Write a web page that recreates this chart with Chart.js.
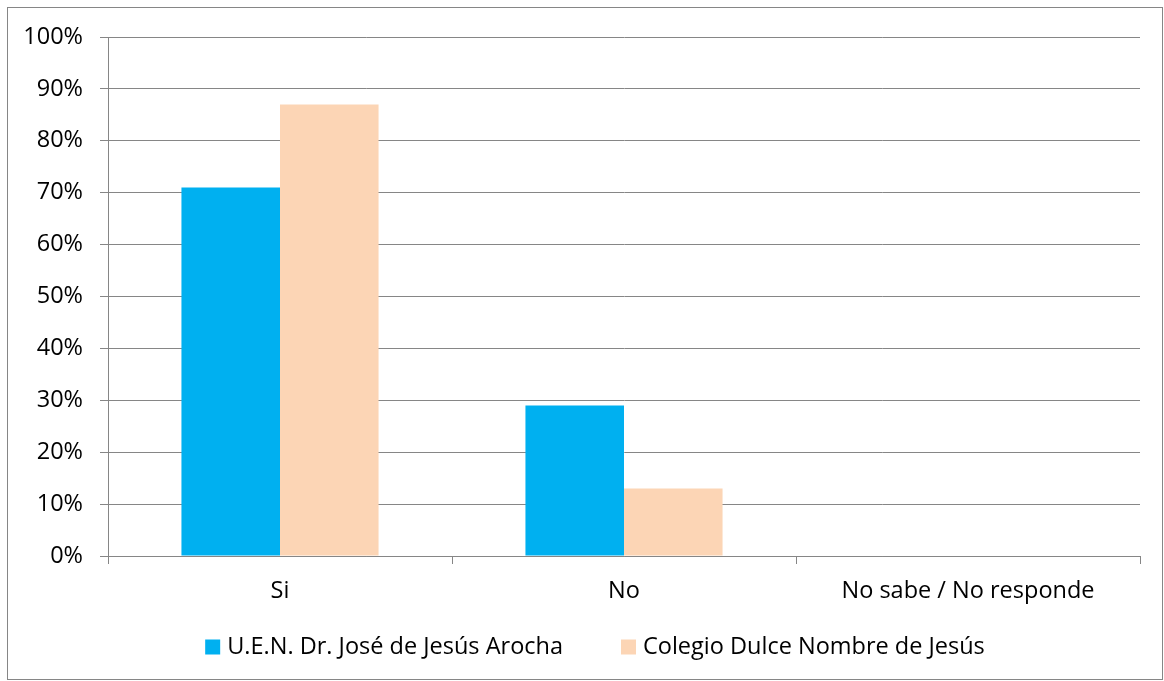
<!DOCTYPE html>
<html>
<head>
<meta charset="utf-8">
<script src="https://cdn.jsdelivr.net/npm/chart.js@4/dist/chart.umd.min.js"></script>
<style>
  html, body { margin: 0; padding: 0; background: #fff; }
  #wrap { position: relative; width: 1164px; height: 681px; }
</style>
</head>
<body>
<div id="wrap"><canvas id="c" width="1164" height="681"></canvas></div>
<script>
// Survey answers by school (share of respondents)
const categories = ['Si', 'No', 'No sabe / No responde'];
const seriesNames = ['U.E.N. Dr. José de Jesús Arocha', 'Colegio Dulce Nombre de Jesús'];
const arochaValues = [71, 29, 0];
const dulceNombreValues = [87, 13, 0];
const yTicks = [0, 10, 20, 30, 40, 50, 60, 70, 80, 90, 100];

const FONT_FAMILY = '"Open Sans", sans-serif';
const FONT_SIZE = 23.5;
const GRID = '#868686';

// White background and thin outer frame around the whole chart
const framePlugin = {
  id: 'frame',
  beforeDraw(chart) {
    const ctx = chart.ctx;
    ctx.save();
    ctx.fillStyle = '#fff';
    ctx.fillRect(0, 0, chart.width, chart.height);
    ctx.strokeStyle = GRID;
    ctx.lineWidth = 1;
    ctx.strokeRect(7.5, 7.5, chart.width - 9, chart.height - 9);
    ctx.restore();
  }
};

// Legend row under the axis: square swatch, tight gap, label
const legendRowPlugin = {
  id: 'legendRow',
  afterDraw(chart, args, opts) {
    const ctx = chart.ctx;
    const sets = chart.data.datasets;
    ctx.save();
    ctx.font = `${FONT_SIZE}px ${FONT_FAMILY}`;
    ctx.textBaseline = 'middle';
    const widths = sets.map(d => opts.box + opts.textGap + ctx.measureText(d.label).width);
    const total = widths.reduce((a, b) => a + b, 0) + opts.itemGap * (sets.length - 1);
    let x = opts.centerX - total / 2;
    sets.forEach((d, i) => {
      ctx.fillStyle = d.backgroundColor;
      ctx.fillRect(x, opts.y - opts.box / 2, opts.box, opts.box);
      ctx.fillStyle = '#000';
      ctx.fillText(d.label, x + opts.box + opts.textGap, opts.y);
      x += widths[i] + opts.itemGap;
    });
    ctx.restore();
  }
};

new Chart(document.getElementById('c'), {
  type: 'bar',
  data: {
    labels: categories,
    datasets: [
      { label: seriesNames[0], data: arochaValues, backgroundColor: '#00B0F0' },
      { label: seriesNames[1], data: dulceNombreValues, backgroundColor: '#FCD5B5' }
    ]
  },
  options: {
    responsive: false,
    animation: false,
    devicePixelRatio: 1,
    layout: { padding: { left: 0, top: 37, right: 24, bottom: 65 } },
    datasets: { bar: { categoryPercentage: 0.573, barPercentage: 1.0 } },
    plugins: {
      tooltip: { enabled: false },
      legend: { display: false },
      legendRow: { centerX: 595, y: 647, box: 15, textGap: 7, itemGap: 58 }
    },
    scales: {
      x: {
        grid: { drawOnChartArea: false, drawTicks: true, tickLength: 8, color: GRID, offset: true },
        border: { display: true, color: GRID, width: 1 },
        ticks: { font: { family: FONT_FAMILY, size: FONT_SIZE }, color: '#000', padding: 13 },
        afterFit(s) { s.height = 60; }
      },
      y: {
        min: 0, max: 100,
        afterBuildTicks(s) { s.ticks = yTicks.map(v => ({ value: v })); },
        grid: { color: GRID, tickLength: 8, lineWidth: 1 },
        border: { display: true, color: GRID, width: 1 },
        ticks: {
          font: { family: FONT_FAMILY, size: FONT_SIZE },
          color: '#000',
          padding: 17,
          callback: v => v + '%'
        },
        afterFit(s) { s.width = 108; }
      }
    }
  },
  plugins: [framePlugin, legendRowPlugin]
});
</script>
</body>
</html>
